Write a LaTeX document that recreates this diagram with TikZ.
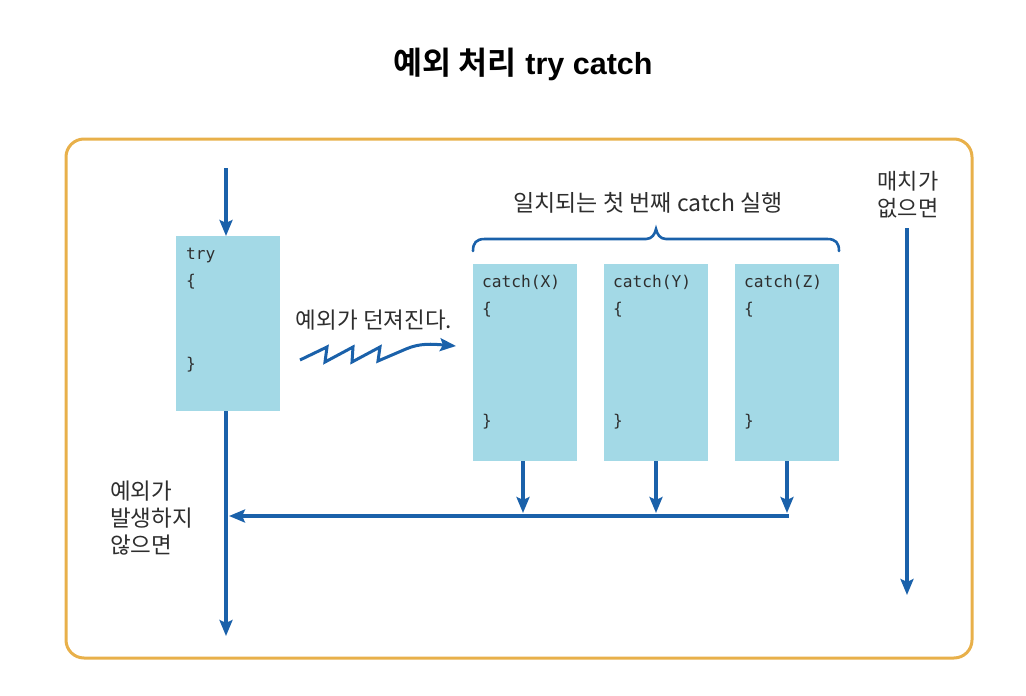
\documentclass[tikz,border=0pt]{standalone}
\usepackage{fontspec}
\setmainfont{Noto Sans CJK KR}
\newfontfamily\krbold{Noto Sans CJK KR Bold}
\newfontfamily\latbold{Liberation Sans Bold}
\newfontfamily\codefont{DejaVu Sans Mono}
\usetikzlibrary{arrows.meta,positioning,calc}
\definecolor{frameor}{HTML}{E8B04A}
\definecolor{boxblue}{HTML}{A3D9E6}
\definecolor{arrowblue}{HTML}{1A61AA}
\definecolor{txtgray}{HTML}{2E2E2E}
\tikzset{
  codebox/.style={fill=boxblue, draw=none, anchor=north west, inner sep=0pt},
  flow/.style={draw=arrowblue, line width=3.2pt, -{Stealth[length=16pt,width=13pt,inset=3pt]}},
  codetxt/.style={font=\codefont\fontsize{16.2}{18}\selectfont, text=txtgray, anchor=west, inner sep=0pt},
  kor/.style={font=\fontsize{19}{27}\selectfont, text=txtgray, inner sep=0pt}
}
\begin{document}
\begin{tikzpicture}[x=1pt,y=-1pt]
\useasboundingbox (0,0) rectangle (1026,696);
% title
\node[inner sep=0pt] (title) at (523,64) {{\krbold\fontsize{31.5}{34}\selectfont 예외 처리}\hspace{9pt}{\latbold\fontsize{30.5}{34}\selectfont try catch}};
% frame
\draw[frameor, line width=3pt, rounded corners=18pt] (66,139) rectangle (972,658);
% try box
\node[codebox, minimum width=104pt, minimum height=175pt] (try) at (176,236) {};
\node[codetxt] (trykw) at (186,255) {try};
\node[codetxt] (tryo) at (186,282) {\{};
\node[codetxt] (tryc) at (186,365) {\}};
% catch boxes
\node[codebox, minimum width=104pt, minimum height=197pt] (cx) at (473,264) {};
\node[codebox, minimum width=104pt, minimum height=197pt] (cy) at (604,264) {};
\node[codebox, minimum width=104pt, minimum height=197pt] (cz) at (735,264) {};
\foreach \b/\l in {cx/X,cy/Y,cz/Z}{
  \node[codetxt] at ($(\b.north west)+(9,18)$) {catch(\l)};
  \node[codetxt] at ($(\b.north west)+(9,46)$) {\{};
  \node[codetxt] at ($(\b.north west)+(9,158)$) {\}};
}
% entry arrow
\coordinate (start) at (226,168);
\draw[flow] (start) -- (try.north -| start);
% thrown label and zigzag
\node[kor, font=\fontsize{22.5}{27}\selectfont] (thrown) at (374,320) {예외가 던져진다.};
\coordinate (z0) at (300,360);
\coordinate (z9) at (456,346);
\draw[draw=arrowblue, line width=3pt, line join=miter, -{Stealth[length=16pt,width=13pt,inset=3pt]}]
  (z0) -- (327,347) -- (325,362) -- (353,347) -- (352,362) -- (380,347) -- (378,361) -- (406,349)
  .. controls (420,343) and (432,344) .. (z9);
% brace
\draw[arrowblue, line width=2.6pt, line cap=round]
  (cx.north west |- 0,251) .. controls (473,243) and (476,239) .. (485,239)
  -- (646,239) .. controls (652,239) and (655,234) .. (656,229)
  .. controls (657,234) and (660,239) .. (666,239)
  -- (827,239) .. controls (836,239) and (839,243) .. (839,251);
\node[kor, font=\fontsize{23}{27}\selectfont] (first) at (648,203) {일치되는 첫 번째 catch 실행};
% right no-match
\node[kor, font=\fontsize{22}{27}\selectfont, align=center] (nomatch) at (908,195) {매치가\\없으면};
\coordinate (nm1) at (907,228);
\coordinate (nm2) at (907,595);
\draw[flow] (nm1) -- (nm2);
% catch down arrows
\coordinate (jx) at (523,516);
\coordinate (jy) at (656,516);
\coordinate (jz) at (787,516);
\draw[flow] (cx.south -| jx) -- ($(jx)+(0,-3)$);
\draw[flow] (cy.south -| jy) -- ($(jy)+(0,-3)$);
\draw[flow] (cz.south -| jz) -- ($(jz)+(0,-3)$);
% horizontal return
\coordinate (jt) at (229,516);
\draw[flow] ($(jz)+(1.6,0)$) -- (jt);
% main down line
\coordinate (endp) at (226,636);
\draw[flow] (try.south -| endp) -- (endp);
\node[kor, font=\fontsize{22.5}{27}\selectfont, align=left, anchor=west] (noexc) at (110,518) {예외가\\발생하지\\않으면};
\end{tikzpicture}
\end{document}
